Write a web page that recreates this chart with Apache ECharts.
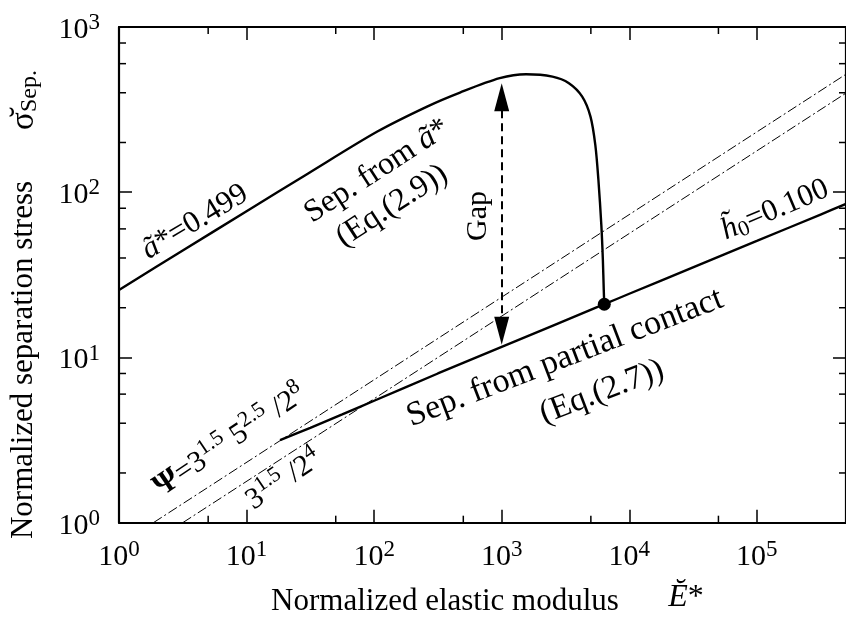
<!DOCTYPE html>
<html><head><meta charset="utf-8">
<script src="https://cdn.jsdelivr.net/npm/echarts@6/dist/echarts.min.js"></script>
<style>html,body{margin:0;padding:0;background:#fff}#c{width:846px;height:619px}</style>
</head><body><div id="c"></div><script>
// ---- data ----
const upperE = [1, 3.16, 10, 30.4, 106, 260, 471, 964, 1552, 2500, 3365, 4276, 4966, 5420, 5728, 6039, 6209, 6310, 6370];
const upperS = [25.6, 44.4, 76.7, 130, 233, 330, 401, 490, 518, 501, 457, 379, 287, 193, 119, 63.4, 39.0, 25.6, 21.0];
const lowerE = [18.3, 31.6, 56.2, 100, 316, 1000, 6370, 10000, 31600, 100000, 316000, 500000];
const lowerS = [3.16, 3.75, 4.52, 5.47, 8.00, 11.6, 21.0, 24.3, 35.1, 50.7, 73.3, 84.9];
const psiE = [1.86, 500000];
const psiS = [1, 518];
const refE = [3.16, 500000];
const refS = [1, 398];
const junction = [6370, 21.0];
const gapE = 1000, gapTop = 376, gapBottom = 14.5;
const xMinor = [5, 50, 500, 5000, 50000];
const yMinor = [2, 4, 6, 8, 20, 40, 60, 80, 200, 400, 600, 800];
const xMin = 1, xMax = 500000, yMin = 1, yMax = 1000;

const FF = "'Liberation Serif','Times New Roman',serif";
const pairs = (a, b) => a.map((v, i) => [v, b[i]]);
const deg = d => d * Math.PI / 180;

const tickRich = {
  b: {fontSize: 30, fontFamily: FF, color: '#000', lineHeight: 30},
  s: {fontSize: 23, fontFamily: FF, color: '#000', lineHeight: 10, padding: [0, 0, 14, 0]}
};
const tickFmt = v => '{b|10}{s|' + Math.round(Math.log10(v)) + '}';
const lineAx = {lineStyle: {color: '#000', width: 2.2}};
const majTick = {inside: true, length: 13, lineStyle: {color: '#000', width: 1.5}};

function mkRich(fs) {
  const ss = Math.round(fs * 0.72);
  return {
    i: {fontSize: fs, fontFamily: FF, fontStyle: 'italic', lineHeight: fs},
    n: {fontSize: fs, fontFamily: FF, lineHeight: fs},
    p: {fontSize: fs + 2, fontFamily: FF, fontWeight: 'bold', lineHeight: fs},
    sup: {fontSize: ss, fontFamily: FF, lineHeight: 10, padding: [0, 0, 18, 0]},
    sub: {fontSize: ss, fontFamily: FF, lineHeight: 10, padding: [12, 0, 0, 0]}
  };
}
function txt(x, y, rotDeg, text, size) {
  const fs = size || 30;
  return {type: 'text', x: x, y: y, rotation: deg(rotDeg), silent: true,
    style: {text: text, fontSize: fs, fontFamily: FF, fill: '#000', lineHeight: fs,
      align: 'center', verticalAlign: 'middle', rich: mkRich(fs)}};
}

const chart = echarts.init(document.getElementById('c'), null, {renderer: 'canvas'});
const option = {
  animation: false,
  backgroundColor: '#fff',
  grid: {left: 119, top: 27, width: 734, height: 495.7},
  xAxis: [
    {type: 'log', logBase: 10, min: xMin, max: xMax, position: 'bottom', axisLine: lineAx, axisTick: majTick,
     splitLine: {show: false}, minorTick: {show: false},
     axisLabel: {formatter: tickFmt, rich: tickRich, margin: 19, showMaxLabel: false}},
    {type: 'log', logBase: 10, min: xMin, max: xMax, position: 'top', axisLine: lineAx, axisTick: majTick,
     splitLine: {show: false}, axisLabel: {show: false}}
  ],
  yAxis: [
    {type: 'log', logBase: 10, min: yMin, max: yMax, position: 'left', axisLine: lineAx, axisTick: majTick,
     splitLine: {show: false}, minorTick: {show: false},
     axisLabel: {formatter: tickFmt, rich: tickRich, margin: 19, padding: [6, 0, 0, 0]}},
    {type: 'log', logBase: 10, min: yMin, max: yMax, position: 'right', axisLine: lineAx, axisTick: majTick,
     splitLine: {show: false}, axisLabel: {show: false}}
  ],
  series: [
    {type: 'line', data: pairs(psiE, psiS), showSymbol: false, silent: true, clip: true,
     lineStyle: {color: '#000', width: 1, type: [10, 3, 2, 3]}},
    {type: 'line', data: pairs(refE, refS), showSymbol: false, silent: true, clip: true,
     lineStyle: {color: '#000', width: 1, type: [10, 3, 2, 3]}},
    {type: 'line', data: pairs(upperE, upperS), showSymbol: false, silent: true, smooth: 0.3,
     lineStyle: {color: '#000', width: 2.4},
     markLine: {silent: true, animation: false, label: {show: false},
       lineStyle: {color: '#000', width: 2, type: [8, 5]},
       symbol: ['triangle', 'triangle'],
       data: [[{coord: [gapE, gapTop], symbolSize: [15, 28]}, {coord: [gapE, gapBottom], symbolSize: [15, 28]}]]}},
    {type: 'line', data: pairs(lowerE, lowerS), showSymbol: false, silent: true, smooth: 0.3,
     lineStyle: {color: '#000', width: 2.4}},
    {type: 'scatter', data: [junction], symbol: 'circle', symbolSize: 13, silent: true,
     itemStyle: {color: '#000', opacity: 1}},
    {type: 'custom', silent: true, data: xMinor.map(v => [v, yMin]),
     renderItem: (params, api) => {
       const b = api.coord([api.value(0), yMin]);
       const t = api.coord([api.value(0), yMax]);
       return {type: 'group', children: [
         {type: 'line', shape: {x1: b[0], y1: b[1], x2: b[0], y2: b[1] - 7}, style: {stroke: '#000', lineWidth: 1.5}},
         {type: 'line', shape: {x1: t[0], y1: t[1], x2: t[0], y2: t[1] + 7}, style: {stroke: '#000', lineWidth: 1.5}}
       ]};
     }},
    {type: 'custom', silent: true, data: yMinor.map(v => [xMin, v]),
     renderItem: (params, api) => {
       const l = api.coord([xMin, api.value(1)]);
       const r = api.coord([xMax, api.value(1)]);
       return {type: 'group', children: [
         {type: 'line', shape: {x1: l[0], y1: l[1], x2: l[0] + 7, y2: l[1]}, style: {stroke: '#000', lineWidth: 1.5}},
         {type: 'line', shape: {x1: r[0], y1: r[1], x2: r[0] - 7, y2: r[1]}, style: {stroke: '#000', lineWidth: 1.5}}
       ]};
     }}
  ],
  graphic: [
    txt(445, 602, 0, 'Normalized elastic modulus', 31),
    txt(686, 598, 0, '{i|Ĕ}*', 32),
    txt(24, 360, 90, 'Normalized separation stress', 31),
    txt(24, 100, 90, '{n|σ̆}{sub|Sep.}', 33),
    txt(195, 222, 31, '{i|ã}*=0.499', 31),
    txt(377, 171, 33, 'Sep. from {i|ã}*', 32),
    txt(392, 206, 33, '(Eq.(2.9))', 32),
    txt(478, 216, 90, 'Gap', 30),
    txt(775, 210, 23, '{i|h̃}{sub|0}=0.100', 31),
    txt(565, 358, 21, 'Sep. from partial contact', 34),
    txt(602, 392, 21, '(Eq.(2.7))', 33),
    txt(230, 441, 34, '{p|Ψ}=3{sup|1.5} 5{sup|2.5} /2{sup|8}', 30),
    txt(284, 480, 34, '3{sup|1.5} /2{sup|4}', 30)
  ]
};
chart.setOption(option);
</script></body></html>
